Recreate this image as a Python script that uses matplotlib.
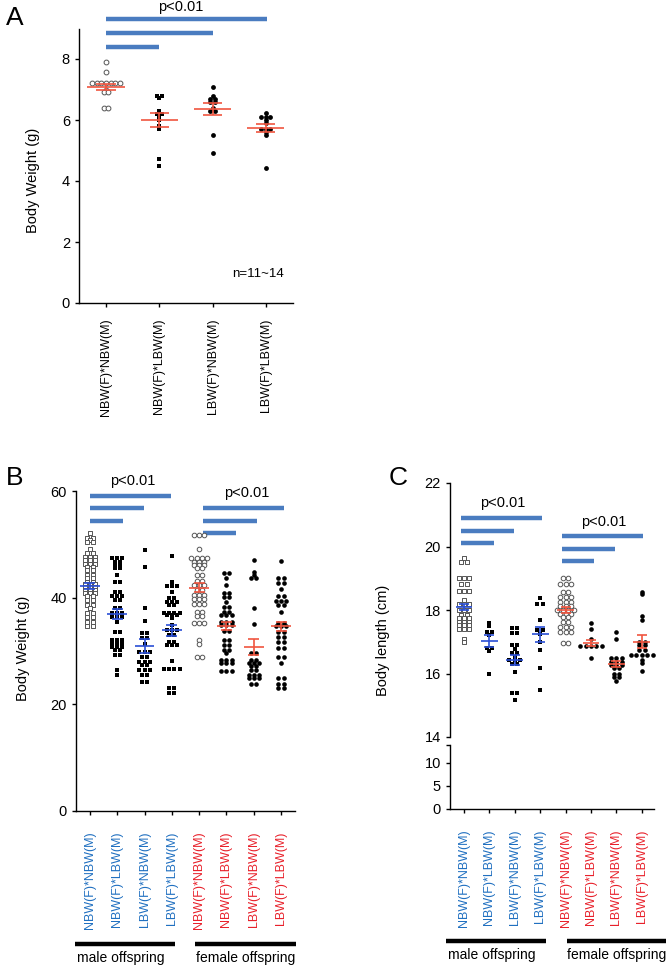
import numpy as np
import matplotlib
matplotlib.use("Agg")
import matplotlib.pyplot as plt

plt.rcParams["font.family"] = ["Liberation Sans", "DejaVu Sans"]

# ---------------- data ----------------
CATS = ["NBW(F)*NBW(M)", "NBW(F)*LBW(M)", "LBW(F)*NBW(M)", "LBW(F)*LBW(M)"]

# Panel A: body weight (g), male
a_vals = [
    [7.90, 7.57, 7.21, 7.21, 7.21, 7.21, 7.21, 7.21, 7.21, 7.0, 6.92, 6.92, 6.39, 6.39],
    [6.79, 6.79, 6.71, 6.31, 6.20, 6.20, 6.12, 6.0, 5.81, 5.70, 4.71, 4.50],
    [7.08, 6.79, 6.69, 6.69, 6.59, 6.59, 6.39, 6.30, 6.30, 5.51, 4.92],
    [6.22, 6.10, 6.10, 6.10, 6.0, 5.90, 5.70, 5.70, 5.70, 5.60, 5.51, 4.43],
]
a_mean = [7.08, 6.00, 6.36, 5.74]
a_sem = [0.11, 0.22, 0.20, 0.13]

# Panel B: body weight (g), male then female
b_vals = [
    [52.2, 51.1, 51.1, 50.8, 50.4, 50.4, 49.1, 48.3, 48.3, 47.7, 47.7, 47.7,
     47.1, 47.1, 47.1, 46.4, 46.4, 46.4, 45.8, 45.8, 45.2, 45.2, 44.3, 44.3,
     43.6, 43.6, 43.0, 43.0, 42.5, 42.5, 42.5, 42.0, 42.0, 42.0, 41.4, 41.4,
     41.4, 40.8, 40.8, 40.8, 40.3, 40.3, 39.6, 39.6, 38.6, 38.6, 38.0, 37.2,
     37.2, 36.4, 36.4, 35.5, 35.5, 34.6, 34.6],
    [47.5, 47.5, 47.5, 46.7, 46.7, 46.1, 46.1, 45.5, 45.5, 44.2, 43.0, 43.0,
     41.1, 41.1, 40.4, 40.4, 40.4, 39.6, 39.6, 38.0, 38.0, 37.2, 37.2, 37.2,
     36.4, 36.4, 36.4, 35.5, 33.6, 33.6, 32.1, 32.1, 32.1, 31.4, 31.4, 31.4,
     30.8, 30.8, 30.8, 30.2, 30.2, 29.2, 29.2, 26.4, 25.5],
    [48.9, 45.8, 38.1, 35.6, 33.3, 33.3, 32.4, 32.4, 31.4, 29.9, 29.9, 29.9,
     28.9, 28.9, 28.0, 28.0, 28.0, 27.4, 27.4, 26.4, 26.4, 26.4, 25.5, 25.5,
     24.2, 24.2],
    [47.9, 42.9, 42.1, 42.1, 42.1, 41.1, 40.0, 40.0, 39.2, 39.2, 39.2, 38.6,
     38.6, 37.2, 37.2, 37.2, 37.2, 36.7, 36.7, 36.7, 36.1, 34.9, 33.9, 33.9,
     33.9, 33.0, 33.0, 31.7, 31.7, 31.1, 31.1, 31.1, 28.1, 26.6, 26.6, 26.6,
     26.6, 23.0, 23.0, 22.2, 22.2],
    [51.7, 51.7, 51.7, 49.1, 47.4, 47.4, 47.4, 47.4, 46.7, 46.7, 46.7, 46.1,
     46.1, 46.1, 45.5, 45.5, 44.2, 44.2, 43.1, 43.1, 42.4, 42.4, 42.4, 41.4,
     41.4, 40.5, 40.5, 40.5, 39.7, 39.7, 39.7, 38.9, 38.9, 38.9, 37.4, 37.4,
     36.6, 36.6, 35.2, 35.2, 35.2, 32.1, 31.4, 28.9, 28.9],
    [44.7, 44.7, 43.7, 42.4, 40.8, 40.8, 40.2, 40.2, 39.1, 38.3, 38.3, 37.4,
     37.4, 36.7, 36.7, 36.7, 35.5, 35.5, 35.5, 34.9, 34.9, 34.9, 33.8, 33.8,
     32.1, 32.1, 31.1, 31.1, 30.2, 30.2, 29.6, 28.3, 28.3, 28.3, 27.7, 27.7,
     27.7, 26.3, 26.3, 26.3],
    [47.1, 44.9, 44.2, 43.6, 43.6, 38.0, 35.0, 29.6, 29.6, 28.3, 28.3, 27.7,
     27.7, 27.7, 27.1, 27.1, 26.4, 26.4, 25.5, 25.5, 25.5, 24.9, 24.9, 24.9,
     23.9, 23.9],
    [46.9, 43.6, 43.6, 42.7, 42.7, 41.7, 40.3, 40.3, 39.4, 39.4, 39.4, 38.6,
     38.6, 37.4, 35.2, 35.2, 34.6, 34.6, 34.6, 33.6, 33.6, 32.7, 32.7, 31.7,
     31.7, 30.5, 30.5, 28.9, 28.9, 27.7, 24.9, 24.9, 23.9, 23.9, 23.0, 23.0],
]
b_mean = [42.2, 36.9, 31.0, 33.9, 41.9, 34.7, 30.7, 34.6]
b_sem = [0.6, 0.9, 1.3, 1.0, 0.8, 0.7, 1.5, 0.8]

# Panel C: body length (cm), male then female
c_vals = [
    [19.63, 19.52, 19.52, 19.0, 19.0, 19.0, 18.81, 18.81, 18.61, 18.61, 18.61,
     18.32, 18.19, 18.19, 18.19, 18.0, 18.0, 18.0, 17.84, 17.84, 17.74, 17.74,
     17.74, 17.63, 17.63, 17.63, 17.53, 17.53, 17.53, 17.4, 17.4, 17.4, 17.08, 17.0],
    [17.6, 17.5, 17.3, 17.3, 17.2, 16.8, 16.8, 16.7, 16.0],
    [17.42, 17.42, 17.29, 17.29, 16.9, 16.9, 16.77, 16.63, 16.63, 16.53, 16.42,
     16.42, 16.42, 16.3, 16.3, 16.05, 15.39, 15.39, 15.18],
    [18.39, 18.19, 18.19, 17.68, 17.37, 17.37, 17.24, 17.0, 16.74, 16.18, 15.48],
    [19.0, 19.0, 18.81, 18.81, 18.81, 18.58, 18.58, 18.42, 18.42, 18.42, 18.26,
     18.26, 18.26, 18.13, 18.13, 18.13, 18.0, 18.0, 18.0, 18.0, 17.87, 17.87,
     17.87, 17.79, 17.79, 17.63, 17.63, 17.45, 17.45, 17.45, 17.32, 17.32,
     17.32, 16.97, 16.97],
    [17.6, 17.39, 17.1, 16.88, 16.88, 16.88, 16.88, 16.88, 16.48],
    [17.32, 17.08, 16.48, 16.48, 16.48, 16.37, 16.37, 16.37, 16.27, 16.27,
     16.27, 16.16, 16.16, 16.0, 16.0, 15.9, 15.9, 15.77],
    [18.58, 18.5, 17.81, 17.69, 17.0, 17.0, 16.9, 16.9, 16.74, 16.74, 16.58,
     16.58, 16.58, 16.58, 16.58, 16.43, 16.32, 16.09],
]
c_mean = [18.1, 17.02, 16.42, 17.23, 18.0, 16.97, 16.29, 17.0]
c_sem = [0.1, 0.2, 0.15, 0.25, 0.1, 0.1, 0.1, 0.2]

# significance bars: (y, x_start, x_end)
a_sig = [(9.3, 0, 3.03), (8.85, 0, 2.0), (8.4, 0, 1.0)]
b_sig = [(59.1, 0, 2.97), (56.9, 0, 1.98), (54.3, 0, 1.2),
         (56.8, 4.14, 7.1), (54.4, 4.14, 6.12), (52.2, 4.14, 5.35)]
c_sig = [(20.9, -0.12, 3.07), (20.49, -0.12, 1.97), (20.11, -0.12, 1.18),
         (20.33, 3.86, 7.05), (19.92, 3.86, 5.94), (19.54, 3.86, 5.12)]

RED = "#f0553f"
BLUE = "#2a4fd6"
SIG = "#4a7cc0"
LBL_BLUE = "#1f6fc0"
LBL_RED = "#e8202a"
W, H = 670, 966


def row_offsets(vals, spacing):
    """Spread points sharing a value side by side (GraphPad-like scatter)."""
    vals = np.asarray(vals, float)
    offs = np.zeros(len(vals))
    for v in np.unique(vals):
        idx = np.where(vals == v)[0]
        n = len(idx)
        offs[idx] = (np.arange(n) - (n - 1) / 2) * spacing
    return offs


def box(left, top, right, bottom):
    return [left / W, 1 - bottom / H, (right - left) / W, (bottom - top) / H]


def style(ax):
    for s in ["top", "right"]:
        ax.spines[s].set_visible(False)
    ax.spines["left"].set_linewidth(1.0)
    ax.spines["bottom"].set_linewidth(1.0)
    ax.tick_params(direction="out", length=3, width=1, labelsize=10.5)


def draw_groups(ax, vals_list, means, sems, colors, open_idx, square_idx,
                size, spacing, mean_half, cap_half):
    for i, vals in enumerate(vals_list):
        offs = row_offsets(vals, spacing)
        marker = "s" if i in square_idx else "o"
        if i in open_idx:
            ax.scatter(i + offs, vals, s=size, marker=marker, facecolor="white",
                       edgecolor="#555555", linewidth=0.7, zorder=2, clip_on=False)
        else:
            ax.scatter(i + offs, vals, s=size, marker=marker, color="black",
                       linewidth=0, zorder=2, clip_on=False)
        c = colors[i]
        ax.hlines(means[i], i - mean_half, i + mean_half, color=c, lw=1.2, zorder=3)
        ax.hlines([means[i] - sems[i], means[i] + sems[i]], i - cap_half, i + cap_half,
                  color=c, lw=1.2, zorder=3)
        ax.vlines(i, means[i] - sems[i], means[i] + sems[i], color=c, lw=1.2, zorder=3)


def draw_sig(ax, bars):
    for y, x0, x1 in bars:
        ax.plot([x0, x1], [y, y], color=SIG, lw=3.2, solid_capstyle="butt",
                clip_on=False, zorder=1)


fig = plt.figure(figsize=(6.7, 9.66), dpi=100)

# ---------------- Panel A ----------------
axA = fig.add_axes(box(79, 28.5, 293, 303))
style(axA)
axA.set_ylim(0, 9)
axA.set_xlim(-0.506, 3.51)
axA.set_yticks([0, 2, 4, 6, 8])
axA.set_xticks(range(4))
axA.set_xticklabels(CATS, rotation=90, fontsize=9, va="top")
axA.tick_params(axis="x", pad=8)
draw_groups(axA, a_vals, a_mean, a_sem, [RED] * 4, {0}, {1},
            size=12, spacing=4.6 / 53.3, mean_half=0.35, cap_half=0.18)
draw_sig(axA, a_sig)
axA.text(1.4, 9.7, "p<0.01", ha="center", va="center", fontsize=10.5)
axA.text(2.85, 0.95, "n=11~14", ha="center", va="center", fontsize=9.5)
fig.text(33 / W, 1 - 180 / H, "Body Weight (g)", rotation=90, ha="center",
         va="center", fontsize=10.5)
fig.text(15 / W, 1 - 18 / H, "A", fontsize=19, ha="center", va="center")

# ---------------- Panel B ----------------
axB = fig.add_axes(box(76, 491, 295, 811))
style(axB)
axB.set_ylim(0, 60)
axB.set_xlim(-0.51, 7.51)
axB.set_yticks([0, 20, 40, 60])
axB.set_xticks(range(8))
axB.set_xticklabels(CATS + CATS, rotation=90, fontsize=9, va="top")
axB.tick_params(axis="x", pad=12)
for k, t in enumerate(axB.get_xticklabels()):
    t.set_color(LBL_BLUE if k < 4 else LBL_RED)
draw_groups(axB, b_vals, b_mean, b_sem, [BLUE] * 4 + [RED] * 4,
            {0, 4}, {0, 1, 2, 3}, size=11, spacing=5.2 / 27.3,
            mean_half=0.36, cap_half=0.2)
draw_sig(axB, b_sig)
axB.text(1.58, 61.9, "p<0.01", ha="center", va="center", fontsize=10.5)
axB.text(5.75, 59.7, "p<0.01", ha="center", va="center", fontsize=10.5)
fig.text(23 / W, 1 - 648 / H, "Body Weight (g)", rotation=90, ha="center",
         va="center", fontsize=10.5)
fig.text(15 / W, 1 - 478 / H, "B", fontsize=19, ha="center", va="center")

# ---------------- Panel C (broken axis) ----------------
axC = fig.add_axes(box(450, 483, 654, 737))
style(axC)
axC.spines["bottom"].set_visible(False)
axC.set_ylim(14, 22)
axC.set_xlim(-0.55, 7.48)
axC.set_yticks([14, 16, 18, 20, 22])
axC.set_xticks([])
draw_groups(axC, c_vals, c_mean, c_sem, [BLUE] * 4 + [RED] * 4,
            {0, 4}, {0, 1, 2, 3}, size=11, spacing=5.4 / 25.4,
            mean_half=0.33, cap_half=0.2)
draw_sig(axC, c_sig)
axC.text(1.54, 21.37, "p<0.01", ha="center", va="center", fontsize=10.5)
axC.text(5.51, 20.77, "p<0.01", ha="center", va="center", fontsize=10.5)

axC2 = fig.add_axes(box(450, 745, 654, 809))
style(axC2)
axC2.set_ylim(0, 13.9)
axC2.set_xlim(-0.55, 7.48)
axC2.set_yticks([0, 5, 10])
axC2.set_yticks([13.9], minor=True)
axC2.tick_params(axis="y", which="minor", length=3, width=1)
axC2.set_xticks(range(8))
axC2.set_xticklabels(CATS + CATS, rotation=90, fontsize=9, va="top")
axC2.tick_params(axis="x", pad=12)
for k, t in enumerate(axC2.get_xticklabels()):
    t.set_color(LBL_BLUE if k < 4 else LBL_RED)
fig.text(383 / W, 1 - 640 / H, "Body length (cm)", rotation=90, ha="center",
         va="center", fontsize=10.5)
fig.text(398 / W, 1 - 478 / H, "C", fontsize=19, ha="center", va="center")

# ---------------- group labels under B and C ----------------
groups = [(75, 175, 944, 121, "male offspring"), (195, 296, 944, 246, "female offspring"),
          (446, 546, 941, 492, "male offspring"), (567, 666, 941, 617, "female offspring")]
for x0, x1, y, xt, label in groups:
    fig.add_artist(plt.Line2D([x0 / W, x1 / W], [1 - y / H, 1 - y / H], color="black",
                              lw=3.2, solid_capstyle="butt"))
    fig.text(xt / W, 1 - (y + 14) / H, label, ha="center", va="center", fontsize=10)

fig.savefig("out.png", dpi=100)
